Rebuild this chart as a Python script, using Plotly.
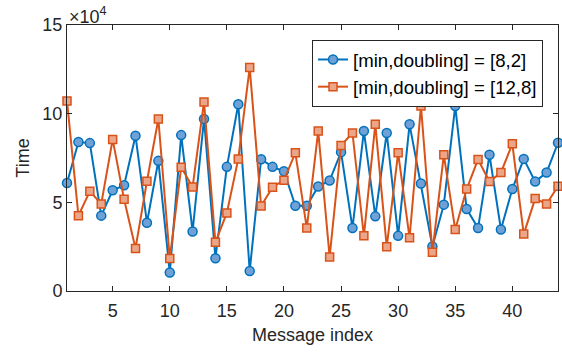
import plotly.graph_objects as go

message_index = list(range(1, 45))
time_8_2 = [6.09, 8.40, 8.34, 4.25, 5.68, 5.96, 8.75, 3.85, 7.34, 1.04,
            8.79, 3.36, 9.70, 1.85, 7.00, 10.53, 1.13, 7.43, 7.00, 6.75,
            4.81, 4.81, 5.89, 6.23, 7.83, 3.55, 9.02, 4.21, 8.91, 3.11,
            9.40, 6.06, 2.51, 4.87, 10.43, 4.62, 3.55, 7.68, 3.47, 5.75,
            7.45, 6.17, 6.68, 8.36]
time_12_8 = [10.72, 4.25, 5.62, 4.91, 8.55, 5.17, 2.40, 6.19, 9.70, 1.83,
             6.98, 5.87, 10.66, 2.75, 4.40, 7.45, 12.60, 4.79, 5.85, 6.25,
             7.79, 3.55, 9.02, 1.92, 8.21, 8.91, 3.11, 9.40, 2.49, 7.79,
             3.00, 10.43, 2.19, 7.68, 3.47, 5.75, 7.42, 6.17, 6.68, 8.30,
             3.21, 5.21, 4.91, 5.91]
scale = 1e4
y_ticks = [0, 5, 10, 15]
x_ticks = [5, 10, 15, 20, 25, 30, 35, 40]
names = ["[min,doubling] = [8,2]", "[min,doubling] = [12,8]"]

font = "Liberation Sans, Arial, sans-serif"
ink = "#262626"
fs = 18

fig = go.Figure()
fig.add_trace(go.Scatter(
    x=message_index, y=[v * scale for v in time_8_2], name=names[0],
    mode="lines+markers", cliponaxis=False,
    line=dict(color="#0072BD", width=2),
    marker=dict(symbol="circle", size=9, color="#6FA0D6",
                line=dict(color="#0072BD", width=1.5)),
))
fig.add_trace(go.Scatter(
    x=message_index, y=[v * scale for v in time_12_8], name=names[1],
    mode="lines+markers", cliponaxis=False,
    line=dict(color="#D95319", width=2),
    marker=dict(symbol="square", size=8, color="#EBA68A",
                line=dict(color="#D95319", width=1.5)),
))

axis_common = dict(
    showline=True, linecolor=ink, linewidth=1, mirror="ticks",
    ticks="inside", ticklen=5, tickcolor=ink, tickwidth=1,
    showgrid=False, zeroline=False,
    tickfont=dict(family=font, size=fs, color=ink),
)

fig.update_layout(
    width=562, height=352,
    margin=dict(l=67, r=4, t=25, b=61),
    paper_bgcolor="white", plot_bgcolor="white",
    font=dict(family=font, color=ink),
    showlegend=True,
    legend=dict(x=0.499, y=0.944, xanchor="left", yanchor="top",
                bgcolor="white", bordercolor=ink, borderwidth=1,
                font=dict(family=font, size=18.6, color="black"),
                tracegroupgap=0, itemwidth=30),
    xaxis=dict(range=[1, 44], tickvals=x_ticks, ticklabelstandoff=3,
               title=dict(text="Message index", font=dict(family=font, size=fs, color=ink), standoff=8),
               **axis_common),
    yaxis=dict(range=[0, 15 * scale], tickvals=[t * scale for t in y_ticks],
               ticktext=[str(t) for t in y_ticks],
               title=dict(text="Time", font=dict(family=font, size=fs, color=ink), standoff=8),
               **axis_common),
    annotations=[dict(text="×10<sup>4</sup>", xref="paper", yref="paper",
                      x=0, y=1, xanchor="left", yanchor="bottom", showarrow=False,
                      font=dict(family=font, size=fs, color=ink), yshift=-4)],
)

fig.write_html("out.html")
